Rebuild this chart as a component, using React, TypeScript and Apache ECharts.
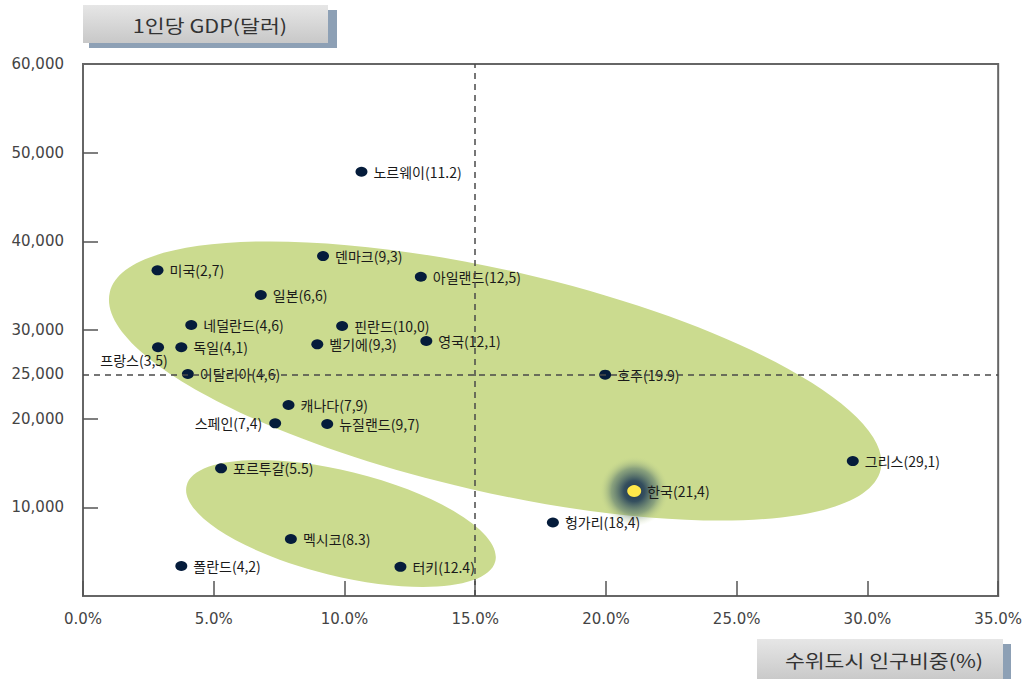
import React, { useEffect, useRef } from "react";
import * as echarts from "echarts";

// ---- data ----
const countries = ["노르웨이", "덴마크", "아일랜드", "미국", "일본", "네덜란드", "핀란드", "프랑스", "독일", "벨기에", "영국", "이탈리아", "호주", "캐나다", "스페인", "뉴질랜드", "그리스", "헝가리", "포르투갈", "멕시코", "폴란드", "터키"];
const shareLabels = ["11.2", "9,3", "12,5", "2,7", "6,6", "4,6", "10,0", "3,5", "4,1", "9,3", "12,1", "4,6", "19.9", "7,9", "7,4", "9,7", "29,1", "18,4", "5.5", "8.3", "4,2", "12.4"];
const urbanShare = [10.65, 9.18, 12.92, 2.85, 6.8, 4.14, 9.91, 2.87, 3.76, 8.96, 13.13, 4.01, 19.97, 7.86, 7.35, 9.34, 29.44, 17.97, 5.28, 7.95, 3.76, 12.14];
const gdpPerCapita = [47850, 38340, 36010, 36730, 33950, 30560, 30450, 28050, 28050, 28380, 28760, 25040, 24960, 21540, 19470, 19400, 15220, 8290, 14400, 6430, 3380, 3290];

const korea = { name: "한국", label: "21,4", x: 21.08, y: 11830 };

const xTicks = [0, 5, 10, 15, 20, 25, 30, 35];
const yLabelValues = [10000, 20000, 25000, 30000, 40000, 50000, 60000];
const yTickValues = [10000, 20000, 30000, 40000, 50000];
const refX = 15;
const refY = 25000;

// group ellipses: major-axis endpoints (x1, y1, x2, y2) in data units + minor/major ratio
const groupEllipses = [
  [1.03, 34240, 30.5, 14255, 0.28],
  [3.96, 12440, 15.77, 3913, 0.33],
];

const yTitle = "1인당 GDP(달러)";
const xTitle = "수위도시 인구비중(%)";

const CJK = "'Noto Sans CJK KR', 'Noto Sans', sans-serif";
const NUM = "'DejaVu Sans', 'Liberation Sans', sans-serif";

export default function App() {
  const ref = useRef<HTMLDivElement>(null);

  useEffect(() => {
    if (!ref.current) return;
    const chart = echarts.init(ref.current, undefined, { renderer: "svg" });

    const leftLabelIdx = new Set(["스페인"]);
    const bottomLabelIdx = new Set(["프랑스"]);

    const dotData = countries.map((c, i) => {
      const item: any = {
        name: c,
        value: [urbanShare[i], gdpPerCapita[i]],
        labelText: `${c}(${shareLabels[i]})`,
      };
      if (leftLabelIdx.has(c)) {
        item.label = { position: "left", distance: 7 };
      } else if (bottomLabelIdx.has(c)) {
        item.label = { position: "bottom", distance: 1, offset: [-24, 0] };
      }
      return item;
    });

    const titleFill = new echarts.graphic.LinearGradient(0, 0, 0, 1, [
      { offset: 0, color: "#e6e6e6" },
      { offset: 1, color: "#c8c8c8" },
    ]);

    const option: any = {
      animation: false,
      grid: {
        left: 83,
        right: 23,
        top: 64,
        bottom: 83,
        show: true,
        borderColor: "#666",
        borderWidth: 2,
      },
      xAxis: {
        type: "value",
        min: xTicks[0],
        max: xTicks[xTicks.length - 1],
        interval: 5,
        axisLine: { show: true, lineStyle: { color: "#666", width: 2 } },
        axisTick: { show: true, inside: true, length: 15, lineStyle: { color: "#555", width: 1.5 } },
        axisLabel: {
          margin: 15,
          color: "#444",
          fontFamily: NUM,
          fontSize: 15,
          formatter: (v: number) => v.toFixed(1) + "%",
        },
        splitLine: { show: false },
      },
      yAxis: {
        type: "value",
        min: 0,
        max: 60000,
        interval: 5000,
        axisLine: { show: true, lineStyle: { color: "#666", width: 2 } },
        axisTick: { show: true, inside: true, length: 15, customValues: yTickValues, lineStyle: { color: "#555", width: 1.5 } },
        axisLabel: {
          margin: 19,
          color: "#444",
          fontFamily: NUM,
          fontSize: 15,
          customValues: yLabelValues,
          formatter: (v: number) => v.toLocaleString("en-US"),
        },
        splitLine: { show: false },
      },
      graphic: [
        { type: "rect", shape: { x: 89, y: 10, width: 248, height: 38 }, style: { fill: "#8da0b5" }, z: 10 },
        { type: "rect", shape: { x: 83, y: 5, width: 245, height: 38 }, style: { fill: titleFill }, z: 11 },
        {
          type: "text",
          x: 210,
          y: 25,
          scaleX: 1.2,
          style: { text: yTitle, font: `18px ${CJK}`, fill: "#333", align: "center", verticalAlign: "middle" },
          z: 12,
        },
        { type: "rect", shape: { x: 763, y: 644, width: 248, height: 40 }, style: { fill: "#8da0b5" }, z: 10 },
        { type: "rect", shape: { x: 757, y: 639, width: 246, height: 42 }, style: { fill: titleFill }, z: 11 },
        {
          type: "text",
          x: 884,
          y: 660,
          scaleX: 1.2,
          style: { text: xTitle, font: `18px ${CJK}`, fill: "#333", align: "center", verticalAlign: "middle" },
          z: 12,
        },
      ],
      series: [
        {
          type: "custom",
          z: 1,
          silent: true,
          clip: false,
          encode: { x: [0, 2], y: [1, 3] },
          data: groupEllipses,
          renderItem: (_params: any, api: any) => {
            const p1 = api.coord([api.value(0), api.value(1)]);
            const p2 = api.coord([api.value(2), api.value(3)]);
            const ratio = api.value(4);
            const cx = (p1[0] + p2[0]) / 2;
            const cy = (p1[1] + p2[1]) / 2;
            const dx = p2[0] - p1[0];
            const dy = p2[1] - p1[1];
            const a = Math.sqrt(dx * dx + dy * dy) / 2;
            const ang = Math.atan2(dy, dx);
            return {
              type: "ellipse",
              x: cx,
              y: cy,
              rotation: -ang,
              shape: { cx: 0, cy: 0, rx: a, ry: a * ratio },
              style: { fill: "#cbdb8f" },
            };
          },
        },
        {
          type: "scatter",
          z: 2,
          silent: true,
          symbolSize: 0,
          data: [[-10, -10]],
          markLine: {
            silent: true,
            symbol: ["none", "none"],
            label: { show: false },
            lineStyle: { type: [6, 5], color: "#4a4a4a", width: 1.5 },
            data: [{ xAxis: refX }, { yAxis: refY }],
          },
        },
        {
          type: "scatter",
          z: 3,
          silent: true,
          symbol: "circle",
          symbolSize: 70,
          data: [[korea.x, korea.y]],
          itemStyle: {
            opacity: 1,
            color: new echarts.graphic.RadialGradient(0.5, 0.5, 0.5, [
              { offset: 0, color: "rgba(30,50,75,1)" },
              { offset: 0.3, color: "rgba(45,72,92,0.95)" },
              { offset: 0.65, color: "rgba(85,115,110,0.55)" },
              { offset: 1, color: "rgba(203,219,143,0)" },
            ]),
          },
        },
        {
          type: "scatter",
          z: 4,
          symbol: "circle",
          symbolSize: [12, 10],
          itemStyle: { color: "#051c3b", opacity: 1 },
          label: {
            show: true,
            position: "right",
            distance: 6,
            color: "#1a1a1a",
            fontFamily: CJK,
            fontSize: 14,
            formatter: (p: any) => p.data.labelText,
          },
          data: dotData,
        },
        {
          type: "scatter",
          z: 5,
          symbol: "circle",
          symbolSize: [14, 12],
          itemStyle: { color: "#ffe84a", opacity: 1 },
          label: {
            show: true,
            position: "right",
            distance: 6,
            color: "#1a1a1a",
            fontFamily: CJK,
            fontSize: 14,
            formatter: () => `${korea.name}(${korea.label})`,
          },
          data: [[korea.x, korea.y]],
        },
      ],
    };

    chart.setOption(option);
    return () => chart.dispose();
  }, []);

  return (
    <div
      ref={ref}
      style={{ position: "absolute", left: 0, top: 0, width: 1025, height: 679, background: "#fff" }}
    />
  );
}
